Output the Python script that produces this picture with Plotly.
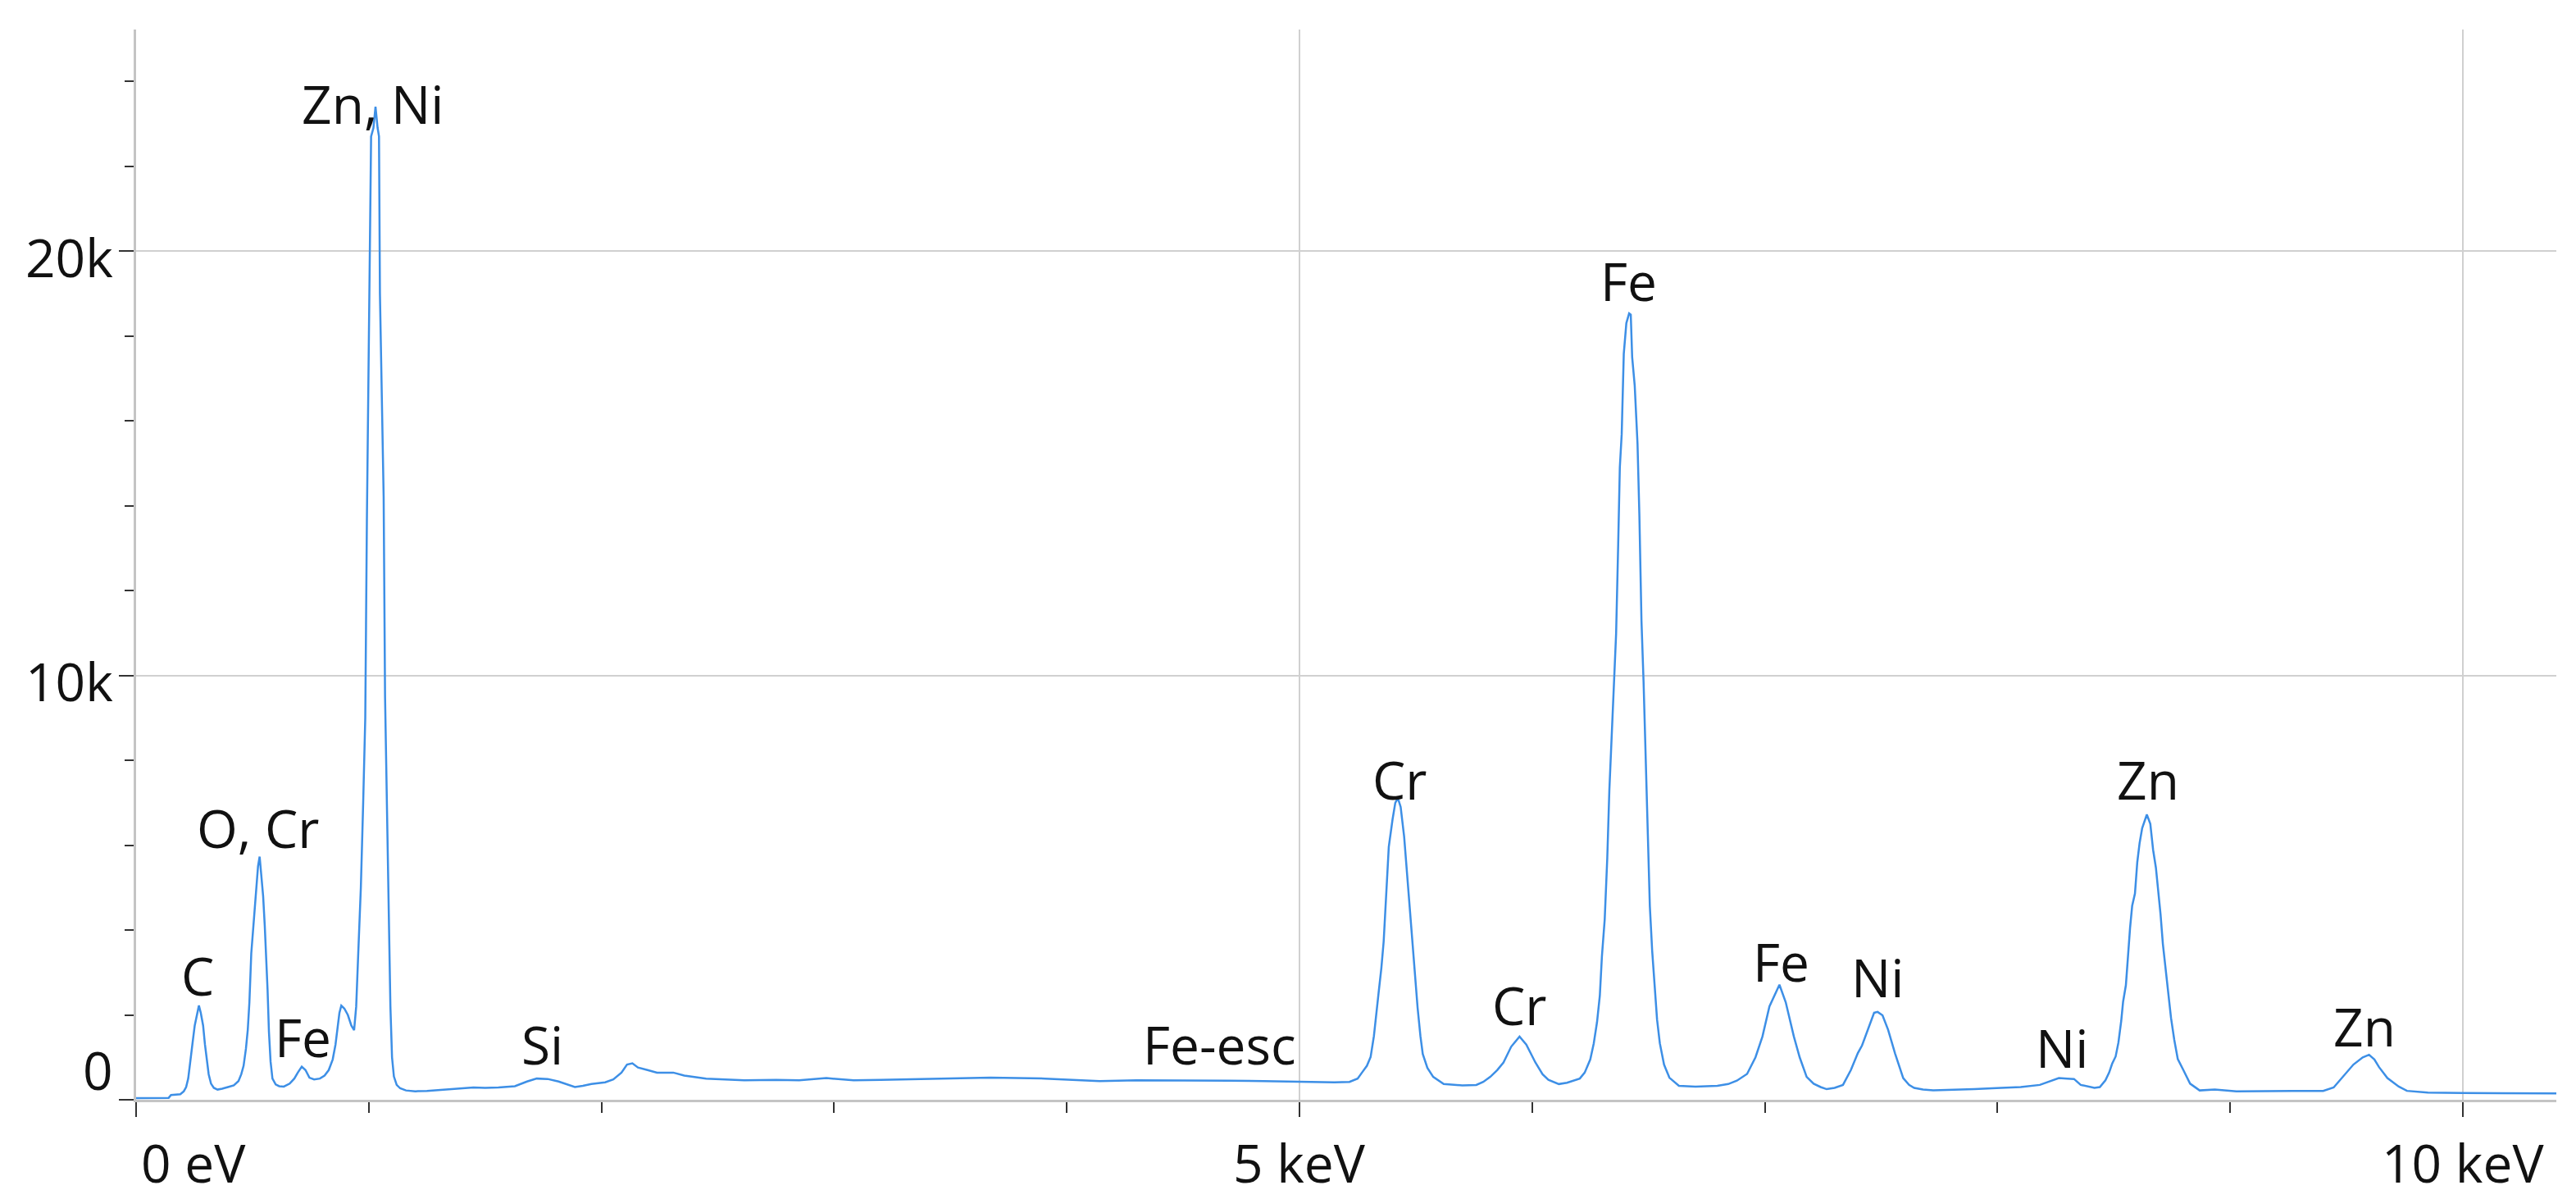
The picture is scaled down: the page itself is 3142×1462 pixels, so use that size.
import plotly.graph_objects as go

# EDS spectrum, values
energy_kev = [
    0.000, 0.100, 0.140, 0.150, 0.190, 0.205, 0.215, 0.224, 0.234, 0.244,
    0.252, 0.262, 0.270, 0.278, 0.288, 0.296, 0.303, 0.312, 0.322, 0.334,
    0.350, 0.370, 0.395, 0.420, 0.440, 0.452, 0.462, 0.472, 0.480, 0.487,
    0.495, 0.505, 0.515, 0.524, 0.531, 0.538, 0.546, 0.553, 0.559, 0.565,
    0.571, 0.578, 0.586, 0.600, 0.615, 0.635, 0.660, 0.680, 0.695, 0.712,
    0.728, 0.745, 0.765, 0.790, 0.810, 0.828, 0.845, 0.857, 0.866, 0.874,
    0.882, 0.895, 0.910, 0.925, 0.937, 0.946, 0.955, 0.966, 0.976, 0.985,
    0.992, 1.001, 1.010, 1.020, 1.029, 1.038, 1.044, 1.048, 1.058, 1.064,
    1.070, 1.078, 1.085, 1.093, 1.100, 1.108, 1.120, 1.135, 1.160, 1.200,
    1.250, 1.300, 1.350, 1.400, 1.450, 1.500, 1.557, 1.628, 1.680, 1.722,
    1.769, 1.816, 1.850, 1.886, 1.920, 1.957, 2.016, 2.051, 2.086, 2.110,
    2.133, 2.157, 2.198, 2.239, 2.309, 2.356, 2.450, 2.614, 2.750, 2.850,
    2.967, 3.084, 3.200, 3.319, 3.500, 3.672, 3.907, 4.141, 4.300, 4.494,
    4.700, 4.846, 5.000, 5.081, 5.150, 5.215, 5.250, 5.270, 5.290, 5.306,
    5.320, 5.340, 5.352, 5.362, 5.373, 5.384, 5.400, 5.412, 5.423, 5.435,
    5.450, 5.463, 5.475, 5.486, 5.497, 5.508, 5.520, 5.530, 5.550, 5.575,
    5.620, 5.700, 5.760, 5.790, 5.820, 5.850, 5.877, 5.910, 5.946, 5.975,
    6.014, 6.045, 6.070, 6.115, 6.150, 6.185, 6.205, 6.226, 6.250, 6.265,
    6.279, 6.291, 6.300, 6.312, 6.323, 6.332, 6.344, 6.353, 6.361, 6.370,
    6.377, 6.385, 6.394, 6.405, 6.417, 6.424, 6.430, 6.441, 6.453, 6.461,
    6.470, 6.479, 6.488, 6.496, 6.506, 6.516, 6.526, 6.537, 6.549, 6.567,
    6.590, 6.631, 6.702, 6.796, 6.843, 6.880, 6.924, 6.960, 6.990, 7.020,
    7.063, 7.090, 7.125, 7.150, 7.180, 7.210, 7.240, 7.266, 7.300, 7.336,
    7.370, 7.400, 7.418, 7.448, 7.470, 7.485, 7.506, 7.530, 7.560, 7.595,
    7.620, 7.642, 7.680, 7.724, 7.800, 7.900, 8.016, 8.100, 8.182, 8.230,
    8.264, 8.300, 8.329, 8.358, 8.393, 8.417, 8.440, 8.464, 8.480, 8.493,
    8.508, 8.520, 8.532, 8.540, 8.552, 8.561, 8.570, 8.579, 8.591, 8.601,
    8.611, 8.622, 8.632, 8.642, 8.657, 8.669, 8.681, 8.693, 8.701, 8.711,
    8.722, 8.734, 8.746, 8.760, 8.775, 8.799, 8.828, 8.869, 8.934, 9.027,
    9.150, 9.300, 9.400, 9.445, 9.480, 9.530, 9.570, 9.597, 9.620, 9.640,
    9.676, 9.725, 9.760, 9.850, 10.000, 10.200, 10.402,
]
counts = [
    40, 40, 45, 110, 130, 200, 300, 500, 1000, 1400,
    1750, 2050, 2220, 2050, 1750, 1300, 1000, 600, 380, 280,
    240, 260, 300, 340, 440, 600, 800, 1200, 1650, 2300,
    3450, 4200, 4800, 5500, 5730, 5300, 4800, 4100, 3450, 2600,
    1600, 900, 500, 360, 320, 310, 380, 500, 640, 780,
    700, 520, 480, 500, 570, 700, 950, 1300, 1700, 2050,
    2220, 2150, 2000, 1750, 1640, 2200, 3480, 5000, 7000, 9000,
    13700, 18700, 22700, 22900, 23400, 22900, 22700, 19000, 16000, 14200,
    9500, 7000, 5000, 2200, 1000, 550, 350, 270, 220, 200,
    210, 230, 250, 270, 290, 280, 290, 320, 430, 500,
    490, 430, 360, 300, 330, 370, 410, 480, 640, 830,
    860, 760, 700, 640, 640, 570, 500, 460, 470, 460,
    510, 460, 470, 480, 500, 520, 500, 440, 460, 460,
    450, 440, 420, 410, 410, 420, 500, 650, 800, 1010,
    1500, 2510, 3100, 3730, 4800, 5960, 6600, 7000, 7110, 6900,
    6200, 5280, 4500, 3790, 3000, 2160, 1500, 1080, 750, 540,
    370, 340, 350, 420, 540, 700, 880, 1250, 1490, 1300,
    880, 600, 470, 370, 400, 460, 500, 640, 950, 1330,
    1830, 2450, 3380, 4250, 5690, 7300, 8700, 9980, 10980, 13090,
    14900, 15680, 17580, 18300, 18530, 18500, 17500, 16830, 15460, 13780,
    11290, 9850, 7990, 6130, 4560, 3510, 2760, 1890, 1330, 830,
    520, 330, 310, 330, 370, 450, 610, 1000, 1490, 2200,
    2710, 2300, 1490, 1000, 540, 380, 300, 250, 280, 350,
    700, 1100, 1280, 1730, 2050, 2070, 1990, 1650, 1090, 510,
    350, 280, 240, 220, 230, 250, 280, 300, 350, 450,
    510, 500, 490, 350, 310, 280, 300, 460, 640, 850,
    1020, 1350, 1860, 2310, 2700, 3410, 4050, 4570, 4860, 5600,
    6050, 6400, 6550, 6720, 6500, 5890, 5470, 4830, 4370, 3670,
    3090, 2510, 1930, 1410, 960, 700, 380, 220, 240, 200,
    200, 210, 210, 290, 510, 830, 1000, 1060, 950, 770,
    510, 310, 210, 170, 160, 150, 150,
]

# peak labels: text, energy (keV), height (counts)
peak_labels = ["C", "O, Cr", "Fe", "Zn, Ni", "Si", "Fe-esc", "Cr", "Cr",
               "Fe", "Fe", "Ni", "Ni", "Zn", "Zn"]
peak_label_kev = [0.265, 0.524, 0.718, 1.015, 1.746, 4.658, 5.430, 5.946,
                  6.416, 7.070, 7.485, 8.277, 8.647, 9.579]
peak_label_counts = [2930, 6400, 1470, 23480, 1300, 1310, 7550, 2230,
                     19300, 3250, 2880, 1220, 7550, 1730]

x_tick_vals = [0, 5, 10]
x_tick_text = ["0 eV", "5 keV", "10 keV"]
y_tick_vals = [0, 10000, 20000]
y_tick_text = ["0", "10k", "20k"]

FONT = dict(family="Open Sans, Noto Sans, sans-serif", size=64, color="#111111")
TICK = "#333333"

fig = go.Figure()
fig.add_trace(go.Scatter(x=energy_kev, y=counts, mode="lines",
                         line=dict(color="#3d8fe6", width=2.5),
                         hoverinfo="skip"))

ann = []
for t, x, y in zip(peak_labels, peak_label_kev, peak_label_counts):
    ann.append(dict(x=x, y=y, xref="x", yref="y", text=t, showarrow=False,
                    xanchor="center", yanchor="middle", font=FONT))

# x tick labels (first one is left aligned on its tick)
for v, t in zip(x_tick_vals, x_tick_text):
    ann.append(dict(x=v, y=-0.059, xref="x", yref="paper", text=t,
                    showarrow=False, xanchor="left" if v == 0 else "center",
                    xshift=4 if v == 0 else 0, yanchor="middle", font=FONT))

# y tick labels, the zero label sits a bit above its tick
for v, t in zip(y_tick_vals, y_tick_text):
    ann.append(dict(x=-0.0088, y=v + (700 if v == 0 else -140), xref="paper",
                    yref="y", text=t, showarrow=False, xanchor="right",
                    yanchor="middle", font=FONT))

fig.update_layout(
    width=3142, height=1462,
    margin=dict(l=158, r=32, t=28, b=129, pad=0),
    paper_bgcolor="white", plot_bgcolor="white",
    showlegend=False,
    annotations=ann,
    xaxis=dict(range=[0, 10.402], tick0=0, dtick=5, showticklabels=False,
               ticks="outside", ticklen=18, tickwidth=2, tickcolor=TICK,
               showline=True, linecolor="#c4c4c4", linewidth=3,
               showgrid=True, gridcolor="#d0d0d0", gridwidth=2,
               zeroline=False,
               minor=dict(dtick=1, ticks="outside", ticklen=13, tickwidth=2,
                          tickcolor=TICK, showgrid=False)),
    yaxis=dict(range=[0, 25220], tick0=0, dtick=10000, showticklabels=False,
               ticks="outside", ticklen=18, tickwidth=2, tickcolor=TICK,
               showline=True, linecolor="#c4c4c4", linewidth=3,
               showgrid=True, gridcolor="#d0d0d0", gridwidth=2,
               zeroline=False,
               minor=dict(dtick=2000, ticks="outside", ticklen=11, tickwidth=2,
                          tickcolor=TICK, showgrid=False)),
)

fig.write_html("out.html")
